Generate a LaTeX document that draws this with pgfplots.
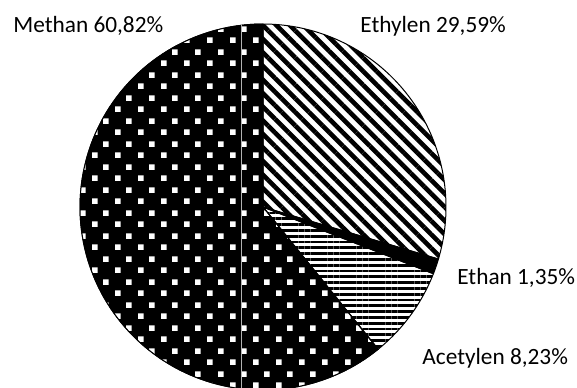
\documentclass[border=0pt]{standalone}
\usepackage{pgfplots}
\pgfplotsset{compat=1.18}
\usepackage{pgfplotstable}
\usepackage{fontspec}
\setmainfont{Carlito}
\usetikzlibrary{patterns,patterns.meta}

% white squares on a staggered grid (used over a black fill)
\pgfdeclarepatternformonly{whitesquares}{\pgfpointorigin}{\pgfpoint{11.5pt}{11.5pt}}{\pgfpoint{11.5pt}{11.5pt}}{%
  \pgfpathrectangle{\pgfpoint{0pt}{0pt}}{\pgfpoint{2.9pt}{2.9pt}}%
  \pgfpathrectangle{\pgfpoint{5.75pt}{5.75pt}}{\pgfpoint{2.9pt}{2.9pt}}%
  \pgfusepath{fill}}

\pgfplotstableread{
name value
Ethylen 29.59
Ethan 1.35
Acetylen 8.23
Methan 60.82
}\gasdata

% slice boundaries, clockwise from 12 o'clock
\pgfplotstablegetelem{0}{value}\of\gasdata \let\vA\pgfplotsretval
\pgfplotstablegetelem{1}{value}\of\gasdata \let\vB\pgfplotsretval
\pgfplotstablegetelem{2}{value}\of\gasdata \let\vC\pgfplotsretval
\pgfplotstablegetelem{3}{value}\of\gasdata \let\vD\pgfplotsretval
\pgfmathsetmacro\aA{90}
\pgfmathsetmacro\aB{\aA-3.6*\vA}
\pgfmathsetmacro\aC{\aB-3.6*\vB}
\pgfmathsetmacro\aD{\aC-3.6*\vC}
\pgfmathsetmacro\aE{\aD-3.6*\vD}

\tikzset{lbl/.style={font=\fontsize{11.65pt}{14pt}\selectfont, inner sep=0pt, anchor=base west}}

\begin{document}
\begin{tikzpicture}
\useasboundingbox (-131.5pt,-90pt) rectangle (157pt,103.5pt);
\clip (-131.5pt,-90pt) rectangle (157pt,103.5pt);
\begin{axis}[
  at={(0,0)}, anchor=center,
  width=183pt, height=183pt, scale only axis,
  xmin=-1, xmax=1, ymin=-1, ymax=1,
  hide axis, clip=false,
]
% Methan
\addplot[draw=black, line width=0.5pt, fill=black,
  postaction={pattern=whitesquares, pattern color=white},
  domain=\aE:\aD, samples=120] ({cos(x)},{sin(x)}) -- (axis cs:0,0) -- cycle;
\draw[gray!60, line width=0.5pt] (axis cs:-0.12,-0.9928) -- (axis cs:-0.12,0.9928);
% Ethylen
\addplot[draw=black, line width=0.5pt,
  pattern={Lines[angle=-45, distance=4.8pt, line width=2.3pt]},
  domain=\aB:\aA, samples=80] ({cos(x)},{sin(x)}) -- (axis cs:0,0) -- cycle;
% Ethan
\addplot[draw=black, line width=0.5pt, fill=black,
  domain=\aC:\aB, samples=10] ({cos(x)},{sin(x)}) -- (axis cs:0,0) -- cycle;
% Acetylen
\addplot[draw=black, line width=0.5pt,
  pattern={Lines[angle=0, distance=2.9pt, line width=1.4pt]},
  domain=\aD:\aC, samples=40] ({cos(x)},{sin(x)}) -- (axis cs:0,0) -- cycle;

\node[lbl] at (axis cs:-1.366,0.951) {Methan 60,82\%};
\node[lbl] at (axis cs:0.530,0.951) {Ethylen 29,59\%};
\node[lbl] at (axis cs:1.060,-0.426) {Ethan 1,35\%};
\node[lbl] at (axis cs:0.869,-0.863) {Acetylen 8,23\%};
\end{axis}
\end{tikzpicture}
\end{document}
